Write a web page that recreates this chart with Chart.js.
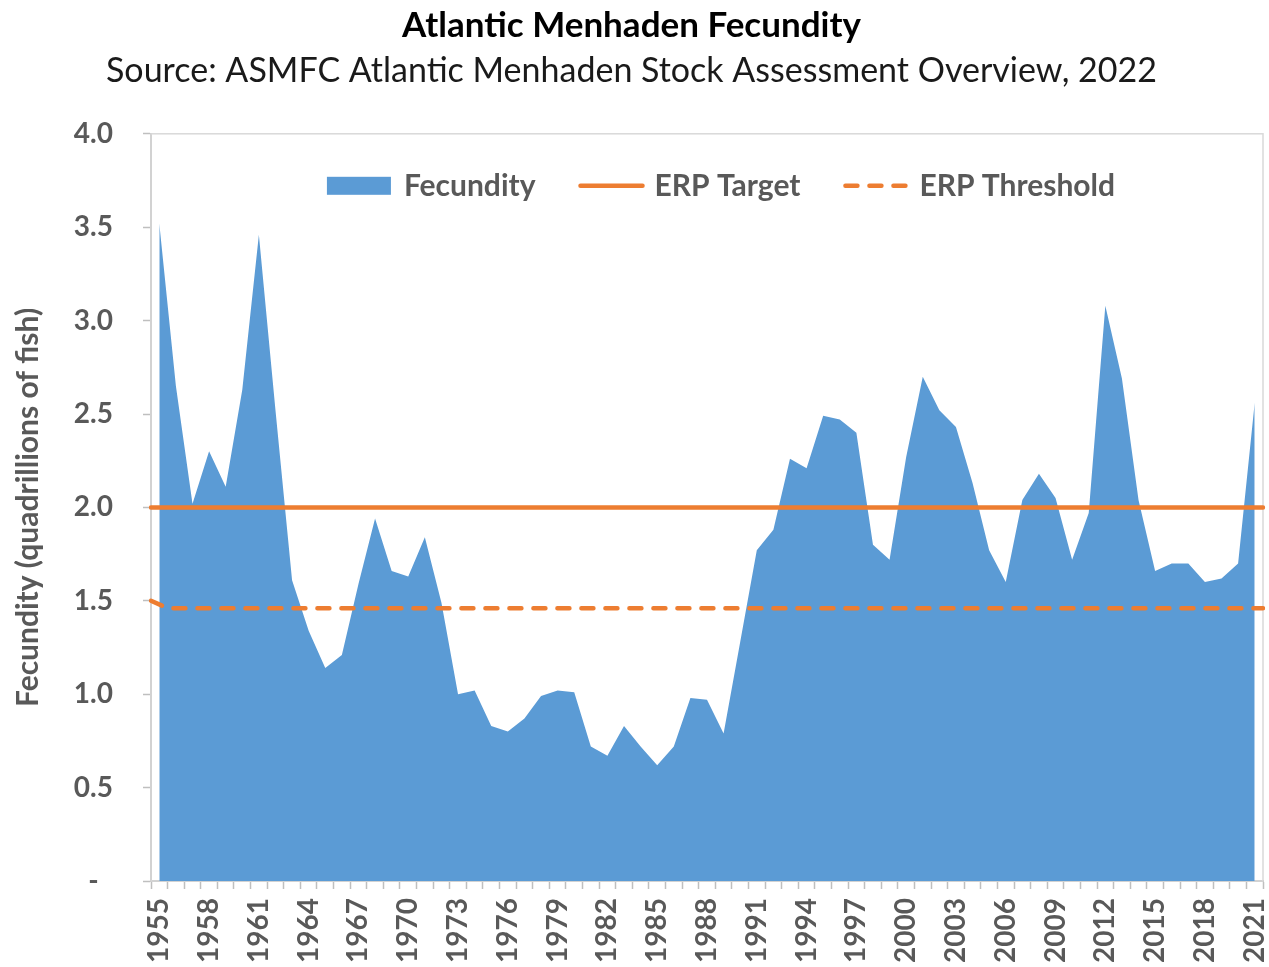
<!DOCTYPE html>
<html>
<head>
<meta charset="utf-8">
<title>Atlantic Menhaden Fecundity</title>
<script src="https://cdn.jsdelivr.net/npm/chart.js@4.4.1/dist/chart.umd.min.js"></script>
<style>
  body { margin: 0; background: #fff; }
  #wrap { width: 1269px; height: 967px; }
</style>
</head>
<body>
<div id="wrap"><canvas id="fecundityChart" width="1269" height="967"></canvas></div>
<script>
// years on the category axis
const years = [
  "1955","1956","1957","1958","1959","1960","1961","1962","1963","1964",
  "1965","1966","1967","1968","1969","1970","1971","1972","1973","1974",
  "1975","1976","1977","1978","1979","1980","1981","1982","1983","1984",
  "1985","1986","1987","1988","1989","1990","1991","1992","1993","1994",
  "1995","1996","1997","1998","1999","2000","2001","2002","2003","2004",
  "2005","2006","2007","2008","2009","2010","2011","2012","2013","2014",
  "2015","2016","2017","2018","2019","2020","2021"
];

// fecundity, quadrillions of fish
const fecundity = [
  3.52, 2.65, 2.02, 2.30, 2.11, 2.63, 3.46, 2.52, 1.61, 1.34,
  1.14, 1.21, 1.59, 1.94, 1.66, 1.63, 1.84, 1.49, 1.00, 1.02,
  0.83, 0.80, 0.87, 0.99, 1.02, 1.01, 0.72, 0.67, 0.83, 0.72,
  0.62, 0.72, 0.98, 0.97, 0.79, 1.28, 1.77, 1.88, 2.26, 2.21,
  2.49, 2.47, 2.40, 1.80, 1.72, 2.27, 2.70, 2.52, 2.43, 2.13,
  1.77, 1.60, 2.04, 2.18, 2.05, 1.72, 1.97, 3.08, 2.69, 2.04,
  1.66, 1.70, 1.70, 1.60, 1.62, 1.70, 2.56
];

const erpTarget = [
  2.0, 2.0, 2.0, 2.0, 2.0, 2.0, 2.0, 2.0, 2.0, 2.0,
  2.0, 2.0, 2.0, 2.0, 2.0, 2.0, 2.0, 2.0, 2.0, 2.0,
  2.0, 2.0, 2.0, 2.0, 2.0, 2.0, 2.0, 2.0, 2.0, 2.0,
  2.0, 2.0, 2.0, 2.0, 2.0, 2.0, 2.0, 2.0, 2.0, 2.0,
  2.0, 2.0, 2.0, 2.0, 2.0, 2.0, 2.0, 2.0, 2.0, 2.0,
  2.0, 2.0, 2.0, 2.0, 2.0, 2.0, 2.0, 2.0, 2.0, 2.0,
  2.0, 2.0, 2.0, 2.0, 2.0, 2.0, 2.0
];

const erpThreshold = [
  1.50, 1.46, 1.46, 1.46, 1.46, 1.46, 1.46, 1.46, 1.46, 1.46,
  1.46, 1.46, 1.46, 1.46, 1.46, 1.46, 1.46, 1.46, 1.46, 1.46,
  1.46, 1.46, 1.46, 1.46, 1.46, 1.46, 1.46, 1.46, 1.46, 1.46,
  1.46, 1.46, 1.46, 1.46, 1.46, 1.46, 1.46, 1.46, 1.46, 1.46,
  1.46, 1.46, 1.46, 1.46, 1.46, 1.46, 1.46, 1.46, 1.46, 1.46,
  1.46, 1.46, 1.46, 1.46, 1.46, 1.46, 1.46, 1.46, 1.46, 1.46,
  1.46, 1.46, 1.46, 1.46, 1.46, 1.46, 1.46
];

const yTicks = ["-", "0.5", "1.0", "1.5", "2.0", "2.5", "3.0", "3.5", "4.0"];

const BLUE = "#5b9bd5";
const ORANGE = "#ed7d31";
const GREY_TEXT = "#595959";
const AXIS_GREY = "#bfbfbf";
const FONT = "Lato, 'Open Sans', sans-serif";

Chart.defaults.font.family = FONT;
Chart.defaults.color = GREY_TEXT;

// light border round the plot area (top and right edges)
const plotBorder = {
  id: "plotBorder",
  beforeDatasetsDraw(chart) {
    const { ctx, chartArea } = chart;
    ctx.save();
    ctx.strokeStyle = "#d9d9d9";
    ctx.lineWidth = 1.5;
    ctx.strokeRect(chartArea.left, chartArea.top, chartArea.right - chartArea.left, chartArea.bottom - chartArea.top);
    ctx.restore();
  }
};

// legend drawn in one row inside the top of the plot area
const inlineLegend = {
  id: "inlineLegend",
  afterDatasetsDraw(chart) {
    const { ctx, chartArea } = chart;
    const symW = 68, symGap = 9, itemGap = 42;
    ctx.save();
    ctx.font = "bold 30px " + FONT;
    ctx.textBaseline = "middle";
    const items = chart.data.datasets.map((ds) => ({ ds, w: ctx.measureText(ds.label).width }));
    const total = items.reduce((s, it) => s + symW + symGap + it.w, 0) + itemGap * (items.length - 1);
    let x = (chartArea.left + chartArea.right) / 2 - total / 2 + 14;
    const y = chartArea.top + 52;
    items.forEach((it, i) => {
      if (i === 0) {
        ctx.fillStyle = it.ds.backgroundColor;
        ctx.fillRect(x, y - 9, symW - 4, 18);
      } else {
        ctx.strokeStyle = it.ds.borderColor;
        ctx.lineWidth = it.ds.borderWidth;
        ctx.lineCap = "round";
        ctx.setLineDash(it.ds.borderDash || []);
        ctx.beginPath();
        ctx.moveTo(x + 3, y);
        ctx.lineTo(x + symW - 3, y);
        ctx.stroke();
        ctx.setLineDash([]);
      }
      ctx.fillStyle = GREY_TEXT;
      ctx.fillText(it.ds.label, x + symW + symGap, y + 1);
      x += symW + symGap + it.w + itemGap;
    });
    ctx.restore();
  }
};

const ctx = document.getElementById("fecundityChart").getContext("2d");
const fecundityChart = new Chart(ctx, {
  type: "line",
  data: {
    labels: years,
    datasets: [
      {
        label: "Fecundity",
        data: fecundity,
        xAxisID: "x",
        fill: "origin",
        backgroundColor: BLUE,
        borderColor: BLUE,
        borderWidth: 0,
        pointRadius: 0,
        tension: 0,
        order: 3,
      },
      {
        label: "ERP Target",
        data: erpTarget,
        xAxisID: "x2",
        fill: false,
        borderColor: ORANGE,
        backgroundColor: ORANGE,
        borderWidth: 4.5,
        borderCapStyle: "round",
        pointRadius: 0,
        order: 1,
      },
      {
        label: "ERP Threshold",
        data: erpThreshold,
        xAxisID: "x2",
        fill: false,
        borderColor: ORANGE,
        backgroundColor: ORANGE,
        borderWidth: 4.5,
        borderDash: [12, 12],
        borderCapStyle: "round",
        pointRadius: 0,
        order: 2,
      },
    ],
  },
  options: {
    responsive: false,
    animation: false,
    layout: { padding: { left: 0, right: 6, top: 0, bottom: 0 } },
    plugins: {
      title: {
        display: true,
        text: "Atlantic Menhaden Fecundity",
        color: "#000",
        font: { size: 35, weight: "bold" },
        padding: { top: 5, bottom: 0 },
      },
      subtitle: {
        display: true,
        text: "Source: ASMFC Atlantic Menhaden Stock Assessment Overview, 2022",
        color: "#1a1a1a",
        font: { size: 34, weight: "normal" },
        padding: { top: 4, bottom: 42 },
      },
      legend: { display: false },
      tooltip: { enabled: false },
    },
    scales: {
      x: {
        type: "category",
        offset: true,
        border: { color: AXIS_GREY, width: 2 },
        grid: {
          offset: true,
          drawOnChartArea: false,
          color: AXIS_GREY,
          tickLength: 8,
          tickWidth: 1.5,
        },
        ticks: {
          autoSkip: false,
          maxRotation: 90,
          minRotation: 90,
          padding: 9,
          color: GREY_TEXT,
          font: { size: 28, weight: "bold" },
          callback(value, index) {
            return index % 3 === 0 ? years[index] : "";
          },
        },
        afterFit(scale) {
          scale.height = 86;
          scale.paddingLeft = 0;
          scale.paddingRight = 0;
        },
      },
      x2: {
        type: "category",
        offset: false,
        display: false,
      },
      y: {
        min: 0,
        max: 4,
        border: { color: AXIS_GREY, width: 2 },
        grid: {
          drawOnChartArea: false,
          color: AXIS_GREY,
          tickLength: 8,
          tickWidth: 1.5,
        },
        ticks: {
          stepSize: 0.5,
          padding: 30,
          crossAlign: "center",
          color: GREY_TEXT,
          font: { size: 28, weight: "bold" },
          callback(value) {
            return yTicks[Math.round(value * 2)];
          },
        },
        title: {
          display: true,
          text: "Fecundity (quadrillions of fish)",
          color: GREY_TEXT,
          font: { size: 30, weight: "bold" },
          padding: { top: 10, bottom: 0 },
        },
        afterFit(scale) { scale.width = 151; },
      },
    },
  },
  plugins: [plotBorder, inlineLegend],
});
</script>
</body>
</html>
